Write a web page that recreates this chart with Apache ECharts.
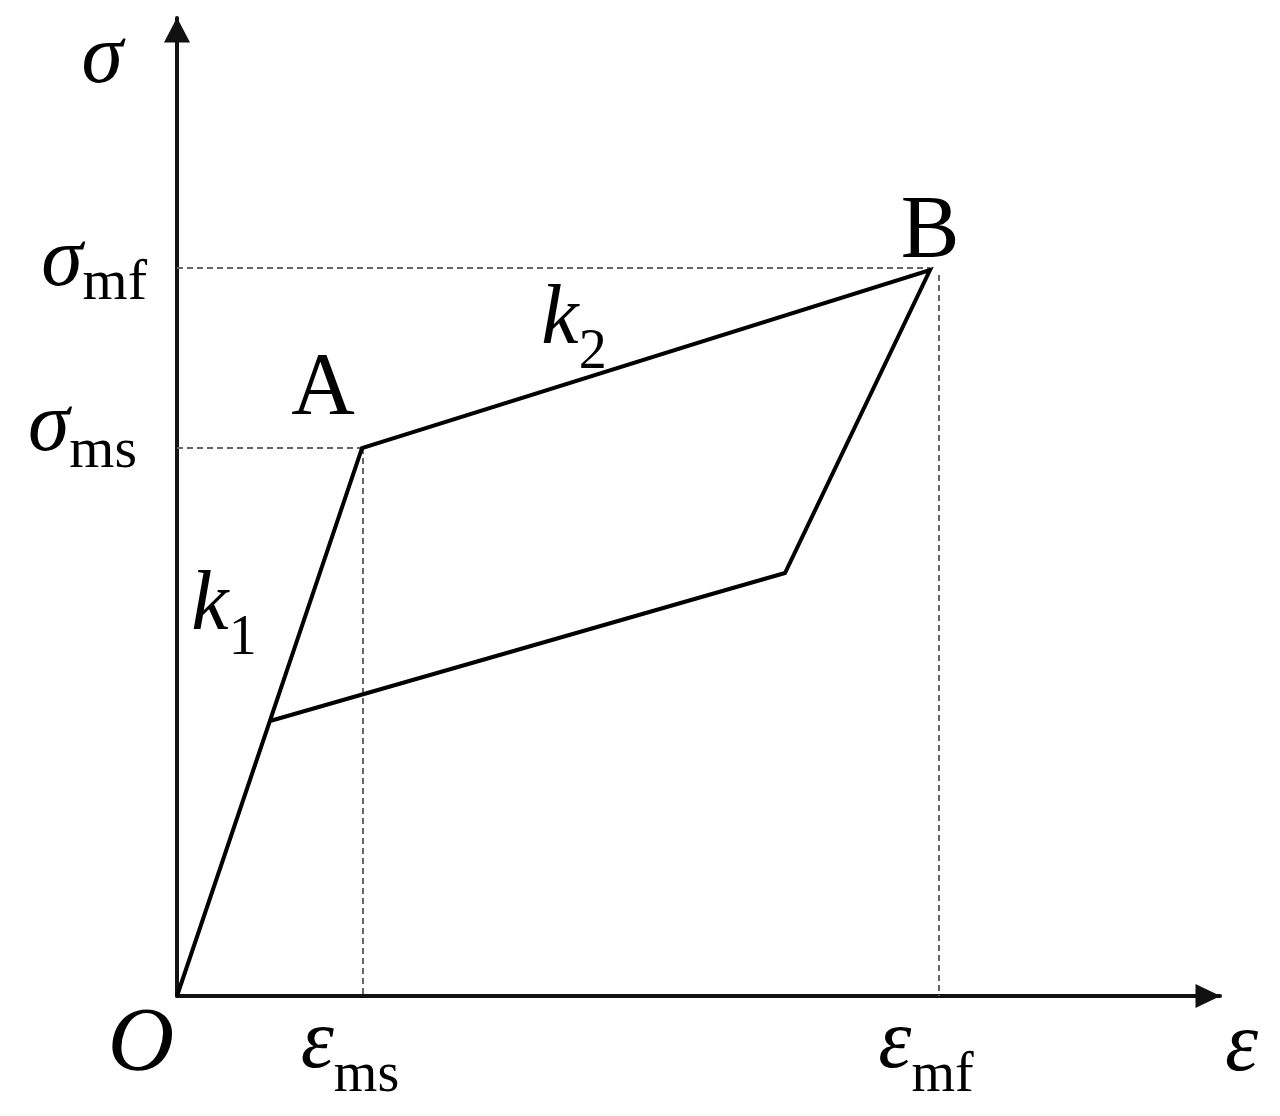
<!DOCTYPE html>
<html>
<head>
<meta charset="utf-8">
<script src="https://cdn.jsdelivr.net/npm/echarts@6/dist/echarts.min.js"></script>
<style>html,body{margin:0;padding:0;background:#fff}#c{width:1280px;height:1116px}</style>
</head>
<body>
<div id="c"></div>
<script>
// Loading path O -> A -> B -> unloading -> back onto OA
const pathStrain = [0, 18.5, 75.3, 60.8, 9.3];
const pathStress = [0, 54.8, 72.6, 42.3, 27.5];
// characteristic values
const epsMs = 18.6, epsMf = 76.2;
const sigMs = 54.8, sigMf = 72.8;
const xTickValues = [0, epsMs, epsMf];
const xTickLabels = ['O', 'ms', 'mf'];
const yTickValues = [sigMs, sigMf];
const yTickLabels = ['ms', 'mf'];
// annotation anchors [strain, stress, text]
const annotations = [
  [14.6, 60.6, 'A'],
  [75.3, 76.3, 'B'],
  [4.7, 37.1, 'k1'],
  [39.7, 65.7, 'k2']
];
// dashed guide lines
const guideH1 = [[0, sigMs], [18.5, sigMs]];
const guideH2 = [[0, sigMf], [75.3, sigMf]];
const guideV1 = [[epsMs, sigMs], [epsMs, 0]];
const guideV2 = [[epsMf, 72.1], [epsMf, 0]];

const SERIF = "'Liberation Serif','DejaVu Serif',serif";
const BIG = 84, SUB = 56;
const base = {fontFamily: SERIF, color: '#000', opacity: 1};
const rich = {
  gx: Object.assign({}, base, {fontStyle: 'italic', fontSize: BIG, lineHeight: BIG, padding: [0, 0, 17, 0], verticalAlign: 'bottom'}),
  sx: Object.assign({}, base, {fontSize: SUB, lineHeight: SUB, padding: [0, 26, 0, 0], verticalAlign: 'bottom'}),
  gy: Object.assign({}, base, {fontStyle: 'italic', fontSize: BIG, lineHeight: 90, padding: [0, 0, 8, 0], verticalAlign: 'bottom'}),
  sy: Object.assign({}, base, {fontSize: 58, lineHeight: 58, verticalAlign: 'bottom'}),
  gy2: Object.assign({}, base, {fontStyle: 'italic', fontSize: BIG, lineHeight: BIG, padding: [0, 0, 20, 0], verticalAlign: 'bottom'}),
  sy2: Object.assign({}, base, {fontSize: 58, lineHeight: 58, padding: [0, 10, 9, 0], verticalAlign: 'bottom'}),
  gk: Object.assign({}, base, {fontStyle: 'italic', fontSize: BIG, lineHeight: BIG, padding: [0, 0, 18, 0], verticalAlign: 'bottom'}),
  sk: Object.assign({}, base, {fontSize: SUB, lineHeight: SUB, verticalAlign: 'bottom'}),
  o: Object.assign({}, base, {fontStyle: 'italic', fontSize: 92, lineHeight: 52, padding: [0, 72, 0, 0]}),
  u: Object.assign({}, base, {fontSize: 88, lineHeight: 88}),
  nx: Object.assign({}, base, {fontStyle: 'italic', fontSize: BIG, lineHeight: BIG, padding: [104, 0, 0, 0]}),
  ny: Object.assign({}, base, {fontStyle: 'italic', fontSize: BIG, lineHeight: BIG})
};

const chart = echarts.init(document.getElementById('c'), null, {renderer: 'canvas'});
const dashStyle = {color: '#666', width: 2, type: [6, 4]};
function guide(d) {
  return {type: 'line', data: d, symbol: 'none', lineStyle: dashStyle, silent: true, z: 1};
}
chart.setOption({
  animation: false,
  backgroundColor: '#fff',
  grid: {left: 177, right: 60, top: 18, bottom: 120},
  xAxis: {
    type: 'value', min: 0, max: 104.3,
    splitLine: {show: false},
    axisTick: {show: false},
    axisLine: {lineStyle: {color: '#111', width: 4}, symbol: ['none', 'triangle'], symbolSize: [24, 25], symbolOffset: [0, -12]},
    axisLabel: {
      customValues: xTickValues, margin: 24,
      formatter: function (v) {
        const i = xTickValues.indexOf(v);
        if (i === 0) return '{o|O}';
        return '{gx|ε}{sx|' + xTickLabels[i] + '}';
      },
      rich: rich
    },
    name: '{nx|ε}', nameLocation: 'end', nameGap: 5,
    nameTextStyle: {rich: rich}
  },
  yAxis: {
    type: 'value', min: 0, max: 97.8,
    splitLine: {show: false},
    axisTick: {show: false},
    axisLine: {lineStyle: {color: '#111', width: 4}, symbol: ['none', 'triangle'], symbolSize: [26, 25], symbolOffset: [0, -12]},
    axisLabel: {
      customValues: yTickValues, margin: 30,
      formatter: function (v) {
        const i = yTickValues.indexOf(v);
        if (i === 0) return '{gy2|σ}{sy2|' + yTickLabels[i] + '}';
        return '{gy|σ}{sy|' + yTickLabels[i] + '}';
      },
      rich: rich
    },
    name: '{ny|σ}', nameLocation: 'end', nameGap: 0,
    nameTextStyle: {align: 'right', verticalAlign: 'top', padding: [0, 54, 0, 0], rich: rich}
  },
  series: [
    guide(guideH1), guide(guideH2), guide(guideV1), guide(guideV2),
    {
      type: 'line', symbol: 'none', z: 3,
      data: pathStrain.map((x, i) => [x, pathStress[i]]),
      lineStyle: {color: '#000', width: 4, join: 'miter'}
    },
    {
      type: 'scatter', symbolSize: 0, clip: false, z: 4,
      itemStyle: {opacity: 1},
      data: annotations,
      label: {
        show: true, position: 'inside', color: '#000', opacity: 1,
        formatter: function (p) {
          const t = p.data[2];
          if (t.length === 2) return '{gk|' + t[0] + '}{sk|' + t[1] + '}';
          return '{u|' + t + '}';
        },
        rich: rich
      }
    }
  ]
});
</script>
</body>
</html>
